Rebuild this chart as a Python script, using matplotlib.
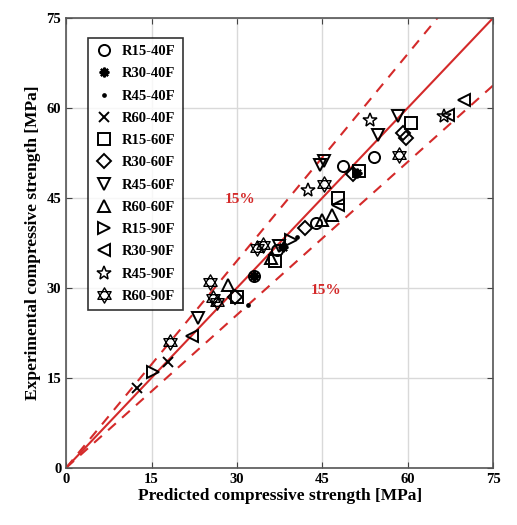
import matplotlib
matplotlib.use("Agg")
import matplotlib.pyplot as plt
import numpy as np
from matplotlib.path import Path

plt.rcParams['font.family'] = ['Liberation Serif', 'DejaVu Serif']
plt.rcParams['font.weight'] = 'bold'

# predicted / experimental compressive strength [MPa]
series = ['R15-40F', 'R30-40F', 'R45-40F', 'R60-40F', 'R15-60F', 'R30-60F',
          'R45-60F', 'R60-60F', 'R15-90F', 'R30-90F', 'R45-90F', 'R60-90F']

pred = {
    'R15-40F': [33.0, 37.1, 43.8, 48.7, 54.0],
    'R30-40F': [32.9, 38.1, 51.1],
    'R45-40F': [32.0, 40.6],
    'R60-40F': [12.5, 17.8],
    'R15-60F': [30.0, 36.7, 47.8, 51.5, 60.5],
    'R30-60F': [29.7, 42.0, 50.4, 59.2, 59.6],
    'R45-60F': [23.2, 37.4, 44.6, 45.2, 54.7, 58.2],
    'R60-60F': [28.5, 35.9, 45.0, 46.7],
    'R15-90F': [15.3, 39.4],
    'R30-90F': [22.1, 47.8, 67.1, 69.8],
    'R45-90F': [42.4, 53.4, 66.3],
    'R60-90F': [18.3, 25.3, 25.7, 26.5, 33.6, 34.6, 45.2, 58.4],
}
exper = {
    'R15-40F': [32.0, 36.3, 40.8, 50.3, 51.8],
    'R30-40F': [32.0, 36.8, 49.2],
    'R45-40F': [27.2, 38.5],
    'R60-40F': [13.3, 17.7],
    'R15-60F': [28.5, 34.5, 45.0, 49.5, 57.5],
    'R30-60F': [28.5, 40.0, 49.0, 55.8, 55.0],
    'R45-60F': [25.0, 37.0, 50.5, 51.2, 55.5, 58.7],
    'R60-60F': [30.5, 35.0, 41.3, 42.2],
    'R15-90F': [16.0, 38.0],
    'R30-90F': [22.0, 43.8, 58.8, 61.3],
    'R45-90F': [46.3, 58.0, 58.7],
    'R60-90F': [21.0, 31.0, 28.3, 27.7, 36.7, 37.2, 47.3, 52.2],
}

axis_max = 75
band = 0.15
ticks = [0, 15, 30, 45, 60, 75]

# hexagram marker (two overlapping triangles)
ang_up = np.deg2rad([90, 210, 330])
ang_dn = np.deg2rad([270, 30, 150])
hex_verts = ([(np.cos(a), np.sin(a)) for a in ang_up] + [(0, 0)] +
             [(np.cos(a), np.sin(a)) for a in ang_dn] + [(0, 0)])
hex_codes = [Path.MOVETO, Path.LINETO, Path.LINETO, Path.CLOSEPOLY] * 2
hexagram = Path(hex_verts, hex_codes)

styles = {
    'R15-40F': dict(marker='o', ms=8),
    'R30-40F': dict(marker=(8, 2, 0), ms=7, mew=1.6),
    'R45-40F': dict(marker='.', ms=4),
    'R60-40F': dict(marker='x', ms=7),
    'R15-60F': dict(marker='s', ms=8),
    'R30-60F': dict(marker='D', ms=7),
    'R45-60F': dict(marker='v', ms=9),
    'R60-60F': dict(marker='^', ms=9),
    'R15-90F': dict(marker='>', ms=9),
    'R30-90F': dict(marker='<', ms=9),
    'R45-90F': dict(marker='*', ms=10, mew=1.1),
    'R60-90F': dict(marker=hexagram, ms=11, mew=1.0),
}

fig = plt.figure(figsize=(5.17, 5.25), dpi=100)
ax = fig.add_axes([0.128, 0.109, 0.826, 0.857])

line_x = np.array([0, axis_max])
red = '#d42a2a'
ax.plot(line_x, line_x, color=red, lw=1.5, zorder=1)
ax.plot(line_x, line_x * (1 + band), color=red, lw=1.5, ls=(0, (5, 4)), zorder=1)
ax.plot(line_x, line_x * (1 - band), color=red, lw=1.5, ls=(0, (5, 4)), zorder=1)

for name in series:
    st = styles[name]
    ax.plot(pred[name], exper[name], ls='none', marker=st['marker'],
            ms=st['ms'], mew=st.get('mew', 1.4), mec='black',
            mfc='none' if st['marker'] != '.' else 'black',
            color='black', label=name, zorder=3)

ax.text(30.6, 44.7, '15%', color=red, fontsize=11, fontweight='bold',
        ha='center', va='center')
ax.text(45.6, 29.6, '15%', color=red, fontsize=11, fontweight='bold',
        ha='center', va='center')

ax.set_xlim(0, axis_max)
ax.set_ylim(0, axis_max)
ax.set_xticks(ticks)
ax.set_yticks(ticks)
ax.grid(True, color='#d9d9d9', lw=1)
ax.set_axisbelow(True)
ax.tick_params(direction='in', top=True, right=True, labelsize=10.5,
               length=4, color='#444444')
for sp in ax.spines.values():
    sp.set_color('#555555')
    sp.set_linewidth(1.2)

ax.set_xlabel('Predicted compressive strength [MPa]', fontsize=12.5,
              fontweight='bold', labelpad=2)
ax.set_ylabel('Experimental compressive strength [MPa]', fontsize=12.5,
              fontweight='bold', labelpad=4)

leg = ax.legend(loc='upper left', bbox_to_anchor=(0.035, 0.972),
                frameon=True, fancybox=False, edgecolor='black',
                fontsize=10.5, labelspacing=0.62, handletextpad=0.6,
                borderpad=0.5, handlelength=1.2)
leg.get_frame().set_linewidth(1.2)

fig.savefig('out.png', dpi=100)
